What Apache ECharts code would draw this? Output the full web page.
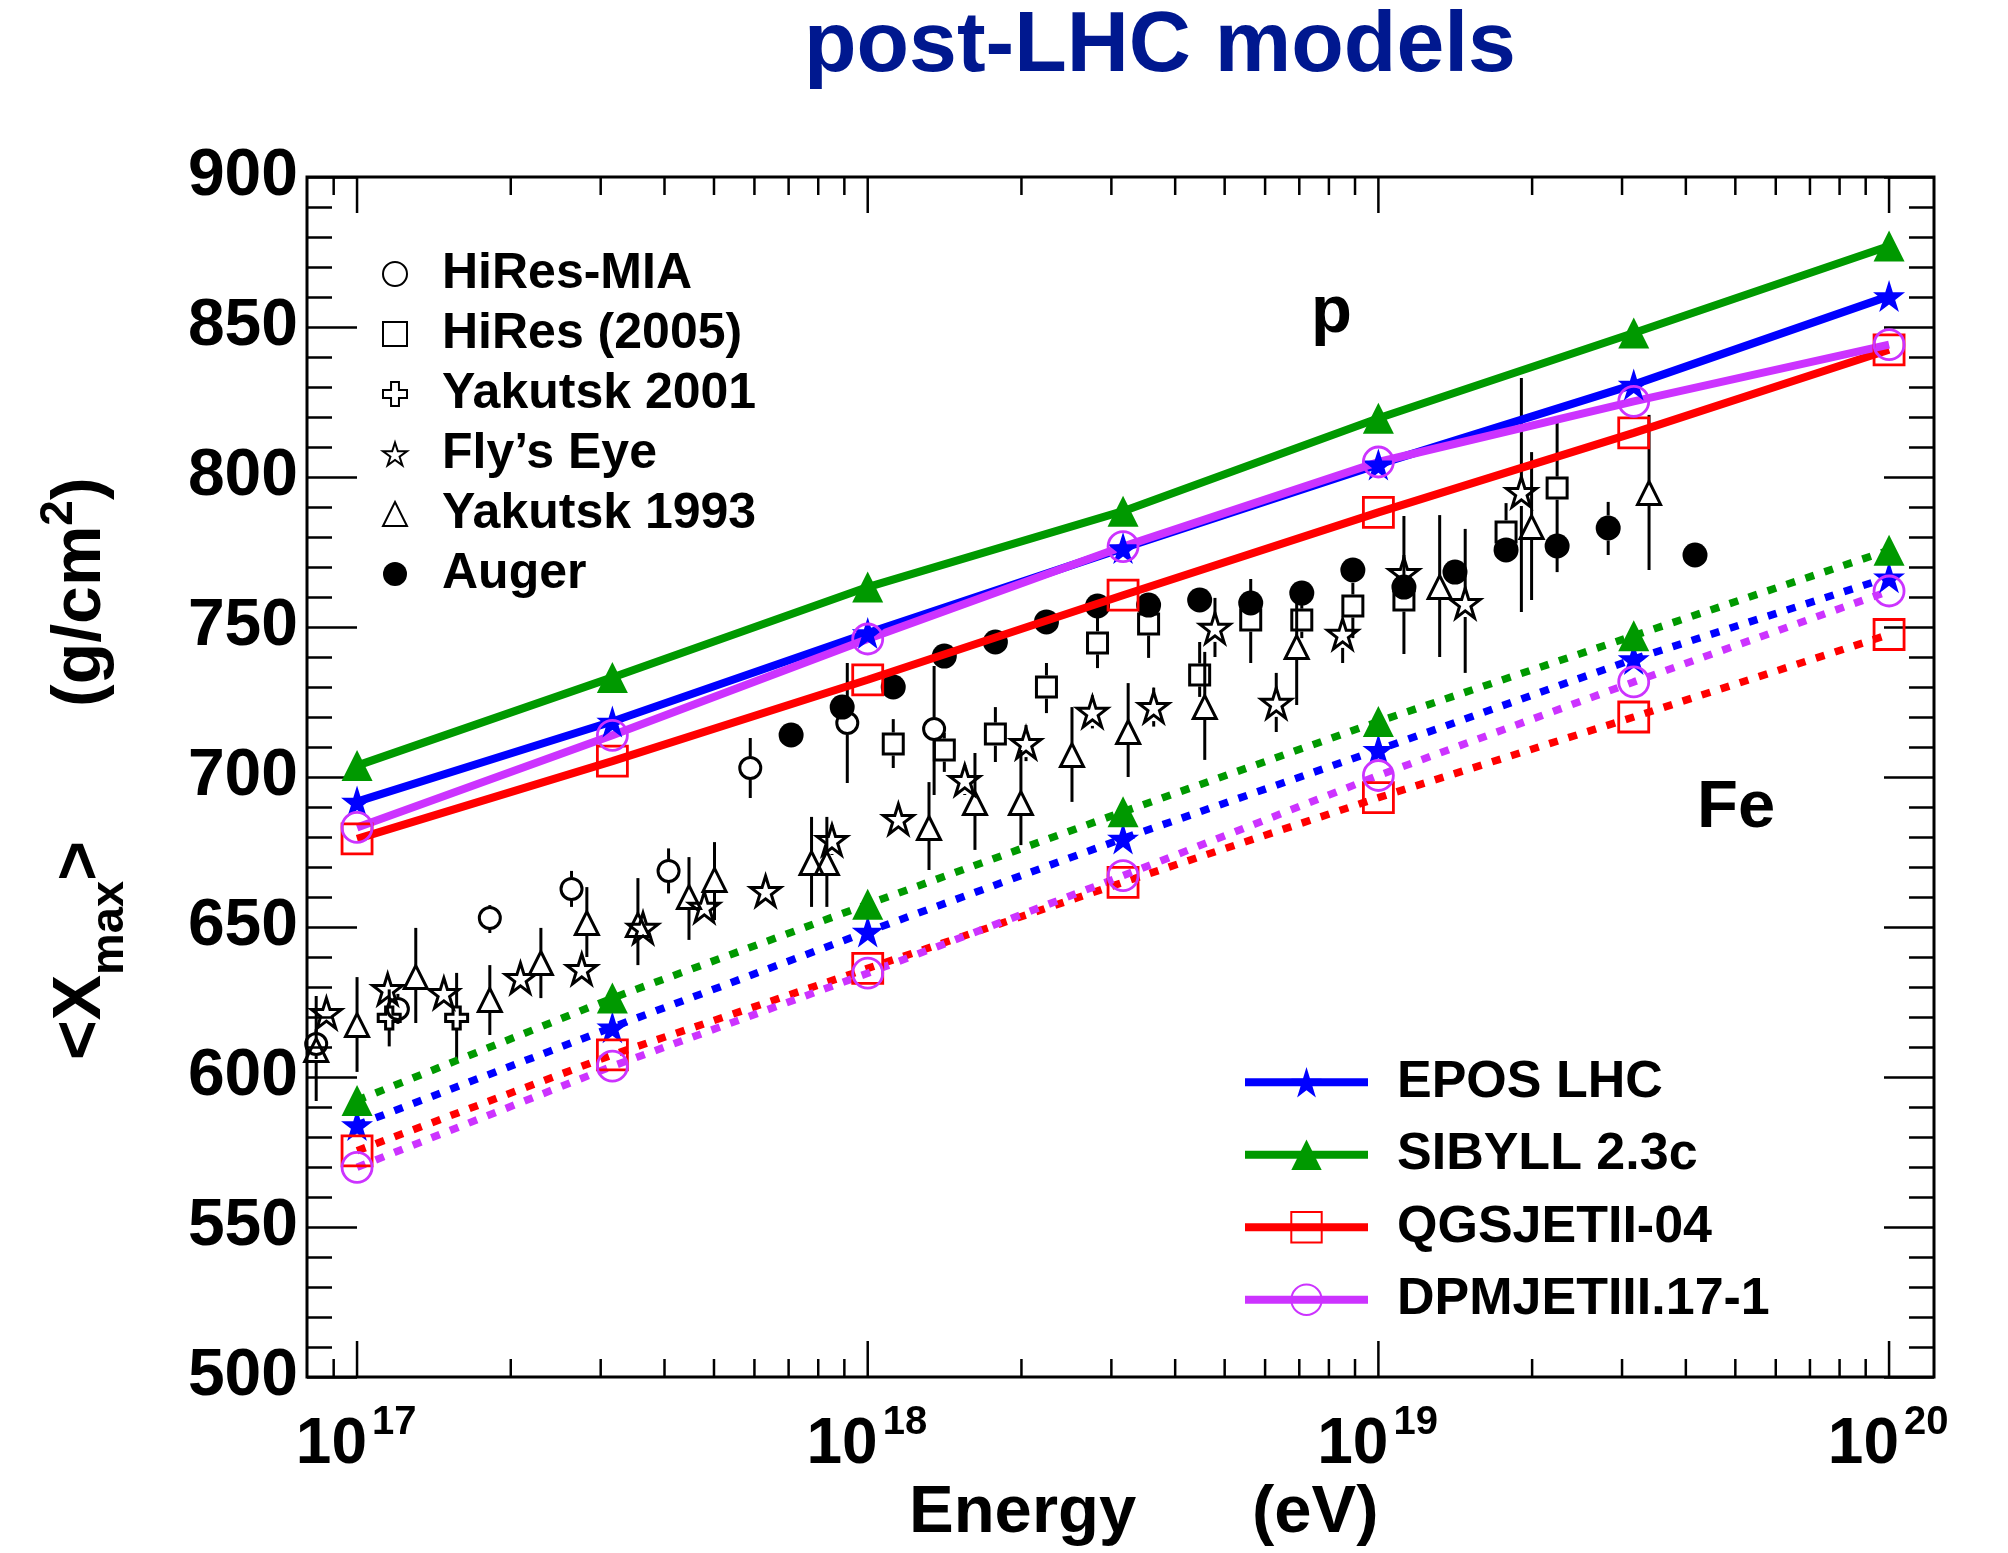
<!DOCTYPE html>
<html><head><meta charset="utf-8">
<script src="https://cdn.jsdelivr.net/npm/echarts@6/dist/echarts.min.js"></script>
<style>html,body{margin:0;padding:0;background:#fff}#c{width:2008px;height:1553px}</style>
</head><body><div id="c"></div>
<script>
const FONT = '"Liberation Sans", Arial, Helvetica, sans-serif';

// ---- axis ranges / ticks (x in log10(E/eV)) ----
const X_MIN = 16.902, X_MAX = 20.088;
const xMajorExp = [17, 18, 19, 20];
const xMinorMant = [2, 3, 4, 5, 6, 7, 8, 9];

// ---- model predictions ----
const modelLogE = [17, 17.5, 18, 18.5, 19, 19.5, 20];
const eposP   = [691.8, 718.5, 748.0, 776.3, 804.2, 830.8, 860.3];
const sibyllP = [703.8, 733.2, 763.3, 788.6, 819.6, 848.0, 877.0];
const qgsjetP = [679.4, 705.3, 732.4, 760.6, 788.2, 814.7, 842.4];
const dpmjetP = [683.2, 713.9, 746.0, 776.8, 805.0, 825.2, 844.1];
const eposFe   = [584.0, 616.6, 648.5, 679.5, 709.1, 739.3, 766.6];
const sibyllFe = [592.2, 626.3, 657.6, 688.4, 718.5, 747.1, 775.6];
const qgsjetFe = [575.4, 607.4, 636.2, 664.9, 693.1, 720.0, 747.5];
const dpmjetFe = [569.9, 603.6, 634.6, 667.1, 700.5, 731.7, 762.0];

// ---- measurements ----
const miaLogE = [16.92, 17.08, 17.26, 17.42, 17.61, 17.77, 17.96, 18.13];
const miaX    = [611.0, 622.7, 653.0, 662.7, 668.7, 703.0, 718.0, 716.0];
const miaLo   = [5, 5, 5, 6, 7.5, 10, 20, 22];
const miaHi   = [5, 5, 4.3, 6, 7.5, 10, 20, 21];

const hiresLogE = [18.05, 18.15, 18.25, 18.35, 18.45, 18.55, 18.65, 18.75, 18.85, 18.95, 19.05, 19.25, 19.35];
const hiresX    = [711.0, 709.0, 714.3, 730.0, 744.7, 751.0, 734.0, 752.3, 752.3, 757.0, 759.0, 781.7, 796.3];
const hiresLo   = [8, 7.3, 9.3, 8.7, 8.4, 11.3, 7.3, 14.3, 6, 10.7, 18, 6, 28];
const hiresHi   = [8.3, 5.7, 9, 8, 8.3, 7, 11, 13.7, 6, 7.7, 28, 9.6, 22.7];

const yak01LogE = [17.063, 17.195];
const yak01X    = [619.7, 619.7];
const yak01Lo   = [9.5, 15];
const yak01Hi   = [9.5, 15];

const flyLogE = [16.94, 17.06, 17.17, 17.32, 17.44, 17.56, 17.68, 17.80, 17.93, 18.06, 18.19, 18.31, 18.44, 18.56, 18.68, 18.80, 18.93, 19.05, 19.17, 19.28];
const flyX    = [621.3, 629.3, 628.0, 633.0, 636.0, 649.7, 656.7, 662.0, 679.0, 686.0, 699.0, 711.3, 721.7, 723.3, 749.7, 724.7, 747.7, 768.0, 758.0, 795.0];
const flyLo   = [4, 4, 4, 4, 4, 4, 4, 4, 5, 4, 5, 6, 5.5, 6.5, 9.7, 9.7, 9.7, 6, 23.3, 40];
const flyHi   = [4, 4, 4, 4, 4, 4, 4, 4, 5, 4, 5, 6, 5.5, 6.5, 10, 10, 4.6, 6, 24.7, 38];

const yak93LogE = [16.92, 17.00, 17.115, 17.26, 17.36, 17.45, 17.55, 17.65, 17.70, 17.89, 17.92, 18.12, 18.21, 18.30, 18.40, 18.51, 18.66, 18.84, 19.12, 19.30, 19.53];
const yak93X    = [609.0, 617.3, 633.3, 625.7, 638.0, 651.3, 650.7, 660.0, 665.7, 671.3, 671.3, 683.0, 691.3, 691.3, 707.3, 715.0, 723.3, 743.3, 763.3, 783.3, 794.7];
const yak93Lo   = [17, 15.6, 15.3, 11.7, 11.7, 11.3, 13.4, 14.3, 13.4, 14.6, 14.6, 14, 15.6, 14, 15.6, 15, 17.6, 19.3, 23.3, 24.3, 25.7];
const yak93Hi   = [18, 16, 16.4, 11.6, 11.7, 12, 15.6, 13.3, 12.6, 15.4, 15.4, 15.3, 16.7, 17.7, 16, 16.3, 18.4, 14.7, 24, 25, 26];

const augerLogE = [17.85, 17.95, 18.05, 18.15, 18.25, 18.35, 18.45, 18.55, 18.65, 18.75, 18.85, 18.95, 19.05, 19.15, 19.25, 19.35, 19.45, 19.62];
const augerX    = [714.0, 723.3, 730.0, 740.3, 745.0, 751.7, 757.0, 757.3, 759.0, 758.0, 761.3, 769.0, 763.3, 768.3, 775.7, 777.0, 783.0, 774.0];
const augerLo   = [2, 2, 2, 2, 2, 2, 2, 2, 2, 3, 3, 3, 3, 3, 4, 4, 9, 4];
const augerHi   = [2, 2, 2, 2, 2, 2, 2, 2, 2, 3, 3, 3, 3, 3, 4, 4, 8.7, 4];

// ---- text ----
const titleText = 'post-LHC models';
const dataNames = ['HiRes-MIA', 'HiRes (2005)', 'Yakutsk 2001', 'Fly\u2019s Eye', 'Yakutsk 1993', 'Auger'];
const modelNames = ['EPOS LHC', 'SIBYLL 2.3c', 'QGSJETII-04', 'DPMJETIII.17-1'];

// ---- symbols ----
const STAR = 'path://M0,-1L0.2245,-0.309L0.951,-0.309L0.363,0.118L0.588,0.809L0,0.382L-0.588,0.809L-0.363,0.118L-0.951,-0.309L-0.2245,-0.309Z';
const CROSS = 'path://M-0.33,-1L0.33,-1L0.33,-0.33L1,-0.33L1,0.33L0.33,0.33L0.33,1L-0.33,1L-0.33,0.33L-1,0.33L-1,-0.33L-0.33,-0.33Z';

const mctx = document.createElement('canvas').getContext('2d');
function measure(t, s) { mctx.font = 'bold ' + s + 'px "Liberation Sans"'; return mctx.measureText(t).width; }
function txt(t, s, x, y, align, color) {
  return {type: 'text', x: x, y: y, silent: true, z: 100,
    style: {text: t, fontSize: s, fontWeight: 'bold', fontFamily: FONT, fill: color || '#000',
      align: align || 'left', verticalAlign: 'middle', textAlign: align || 'left', textVerticalAlign: 'middle'}};
}
function pieces(list, x0) {
  let x = x0; const out = [];
  for (const [t, s, dy] of list) { out.push(txt(t, s, x, dy - 0.3465 * s, 'left')); x += measure(t, s); }
  return out;
}

const yTitle = {type: 'group', x: 105, y: 1060, rotation: Math.PI / 2, silent: true,
  children: pieces([['<X', 68, 0], ['max', 47, 21], ['>', 68, 0]], 0)
    .concat(pieces([['(g/cm', 68, 0], ['2', 46, -30], [')', 68, 0]], 353))};

const xTickData = [];
for (const e of [16, 17, 18, 19, 20]) for (const m of xMinorMant) {
  const v = e + Math.log10(m); if (v > X_MIN + 0.01 && v < X_MAX) xTickData.push([v, 500, 0]);
}
xMajorExp.forEach(e => xTickData.push([e, 500, 1]));

function errSeries(logE, vals, lo, hi, gap) {
  return {type: 'custom', silent: true, z: 2, clip: false,
    data: logE.map((e, i) => [e, vals[i], vals[i] - lo[i], vals[i] + hi[i]]),
    encode: {x: 0, y: 1},
    renderItem: function (params, api) {
      const c = api.coord([api.value(0), api.value(1)]);
      const pl = api.coord([api.value(0), api.value(2)]);
      const ph = api.coord([api.value(0), api.value(3)]);
      const ch = [];
      const st = {stroke: '#000', lineWidth: 3};
      if (ph[1] < c[1] - gap) ch.push({type: 'line', shape: {x1: c[0], y1: ph[1], x2: c[0], y2: c[1] - gap}, style: st});
      if (pl[1] > c[1] + gap) ch.push({type: 'line', shape: {x1: c[0], y1: c[1] + gap, x2: c[0], y2: pl[1]}, style: st});
      return {type: 'group', children: ch};
    }};
}
function dataSeries(name, logE, vals, symbol, size, filled) {
  return {name: name, type: 'scatter', z: 3, silent: true, symbol: symbol, symbolSize: size,
    data: logE.map((e, i) => [e, vals[i]]),
    itemStyle: filled ? {color: '#000', borderWidth: 0, opacity: 1}
                      : {color: 'rgba(255,255,255,0)', borderColor: '#000', borderWidth: 3, opacity: 1}};
}
function modelSeries(name, vals, color, symbol, size, dotted, filled) {
  return {name: name, type: 'line', z: 4, silent: true, symbol: symbol, symbolSize: size,
    showSymbol: true, showAllSymbol: true, emphasis: {disabled: true},
    data: modelLogE.map((e, i) => [e, vals[i]]),
    lineStyle: {color: color, width: dotted ? 7.5 : 8, type: dotted ? [9, 11] : 'solid', cap: 'butt'},
    itemStyle: filled ? {color: color, borderWidth: 0, opacity: 1}
                      : {color: 'rgba(255,255,255,0)', borderColor: color, borderWidth: 2.8, opacity: 1}};
}

const BLUE = '#0000ff', GREEN = '#009900', RED = '#ff0000', VIOLET = '#cc33ff';

const yTick = {show: true, inside: true, length: 50, lineStyle: {color: '#000', width: 2.5}};
const yMinor = {show: true, splitNumber: 5, length: 25, lineStyle: {color: '#000', width: 2.5}};

const option = {
  animation: false,
  backgroundColor: '#fff',
  textStyle: {fontFamily: FONT},
  grid: {left: 307, top: 177, right: 74, bottom: 176, show: true, borderColor: '#000', borderWidth: 3,
    backgroundColor: 'rgba(0,0,0,0)', containLabel: false, outerBoundsMode: 'none'},
  xAxis: {type: 'value', min: X_MIN, max: X_MAX, axisLine: {show: false}, axisTick: {show: false},
    axisLabel: {show: false}, splitLine: {show: false}},
  yAxis: [
    {type: 'value', min: 500, max: 900, interval: 50, position: 'left', axisLine: {show: false},
      axisTick: yTick, minorTick: yMinor, splitLine: {show: false}, minorSplitLine: {show: false},
      axisLabel: {show: true, margin: 9, fontSize: 66, fontWeight: 'bold', fontFamily: FONT, color: '#000',
        showMinLabel: true, showMaxLabel: true}},
    {type: 'value', min: 500, max: 900, interval: 50, position: 'right', axisLine: {show: false},
      axisTick: yTick, minorTick: yMinor, splitLine: {show: false}, minorSplitLine: {show: false},
      axisLabel: {show: false}}
  ],
  legend: [
    {data: dataNames, orient: 'vertical', left: 382, top: 244, padding: 0, itemGap: 0,
      itemWidth: 24, itemHeight: 24, selectedMode: false,
      textStyle: {fontSize: 50, fontWeight: 'bold', fontFamily: FONT, color: '#000', lineHeight: 60, padding: [0, 0, 0, 30]}},
    {data: modelNames, orient: 'vertical', left: 1241, top: 1046, padding: 0, itemGap: 0,
      itemWidth: 123, itemHeight: 38, selectedMode: false, lineStyle: {width: 8},
      textStyle: {fontSize: 52, fontWeight: 'bold', fontFamily: FONT, color: '#000', lineHeight: 72.5, padding: [0, 0, 0, 24]}}
  ],
  graphic: [
    txt(titleText, 86, 1160, 47, 'center', '#00188f'),
    yTitle,
    txt('Energy', 67, 909, 1514, 'left'),
    txt('(eV)', 67, 1252, 1514, 'left'),
    txt('p', 67, 1311, 314, 'left'),
    txt('Fe', 67, 1697, 809, 'left')
  ],
  series: [
    errSeries(miaLogE, miaX, miaLo, miaHi, 11.5),
    errSeries(hiresLogE, hiresX, hiresLo, hiresHi, 11.5),
    errSeries(yak01LogE, yak01X, yak01Lo, yak01Hi, 11.5),
    errSeries(flyLogE, flyX, flyLo, flyHi, 14),
    errSeries(yak93LogE, yak93X, yak93Lo, yak93Hi, 11.5),
    errSeries(augerLogE, augerX, augerLo, augerHi, 12.5),
    dataSeries(dataNames[0], miaLogE, miaX, 'circle', 21, false),
    dataSeries(dataNames[1], hiresLogE, hiresX, 'rect', 20, false),
    dataSeries(dataNames[2], yak01LogE, yak01X, CROSS, 22, false),
    dataSeries(dataNames[3], flyLogE, flyX, STAR, 30, false),
    dataSeries(dataNames[4], yak93LogE, yak93X, 'triangle', 23, false),
    dataSeries(dataNames[5], augerLogE, augerX, 'circle', 25, true),
    modelSeries(modelNames[0], eposP, BLUE, STAR, 32, false, true),
    modelSeries(modelNames[0] + ' Fe', eposFe, BLUE, STAR, 32, true, true),
    modelSeries(modelNames[1], sibyllP, GREEN, 'triangle', 31, false, true),
    modelSeries(modelNames[1] + ' Fe', sibyllFe, GREEN, 'triangle', 31, true, true),
    modelSeries(modelNames[2], qgsjetP, RED, 'rect', 30, false, false),
    modelSeries(modelNames[2] + ' Fe', qgsjetFe, RED, 'rect', 30, true, false),
    modelSeries(modelNames[3], dpmjetP, VIOLET, 'circle', 30, false, false),
    modelSeries(modelNames[3] + ' Fe', dpmjetFe, VIOLET, 'circle', 30, true, false),
    {type: 'custom', name: 'xticks', z: 6, silent: true, clip: false, data: xTickData, encode: {x: 0, y: 1},
      renderItem: function (params, api) {
        const v = api.value(0), major = api.value(2) === 1;
        const b = api.coord([v, 500]), t = api.coord([v, 900]);
        const L = major ? 36 : 18;
        const st = {stroke: '#000', lineWidth: 2.5};
        const ch = [
          {type: 'line', shape: {x1: b[0], y1: b[1], x2: b[0], y2: b[1] - L}, style: st},
          {type: 'line', shape: {x1: t[0], y1: t[1], x2: t[0], y2: t[1] + L}, style: st}
        ];
        if (major) {
          const a = txt('10', 64, b[0] + 10, b[1] + 68, 'right');
          const s = txt(String(Math.round(v)), 40, b[0] + 15, b[1] + 46, 'left');
          ch.push(a, s);
        }
        return {type: 'group', children: ch};
      }}
  ]
};

const chart = echarts.init(document.getElementById('c'), null, {renderer: 'canvas', width: 2008, height: 1553});
chart.setOption(option);
</script></body></html>
